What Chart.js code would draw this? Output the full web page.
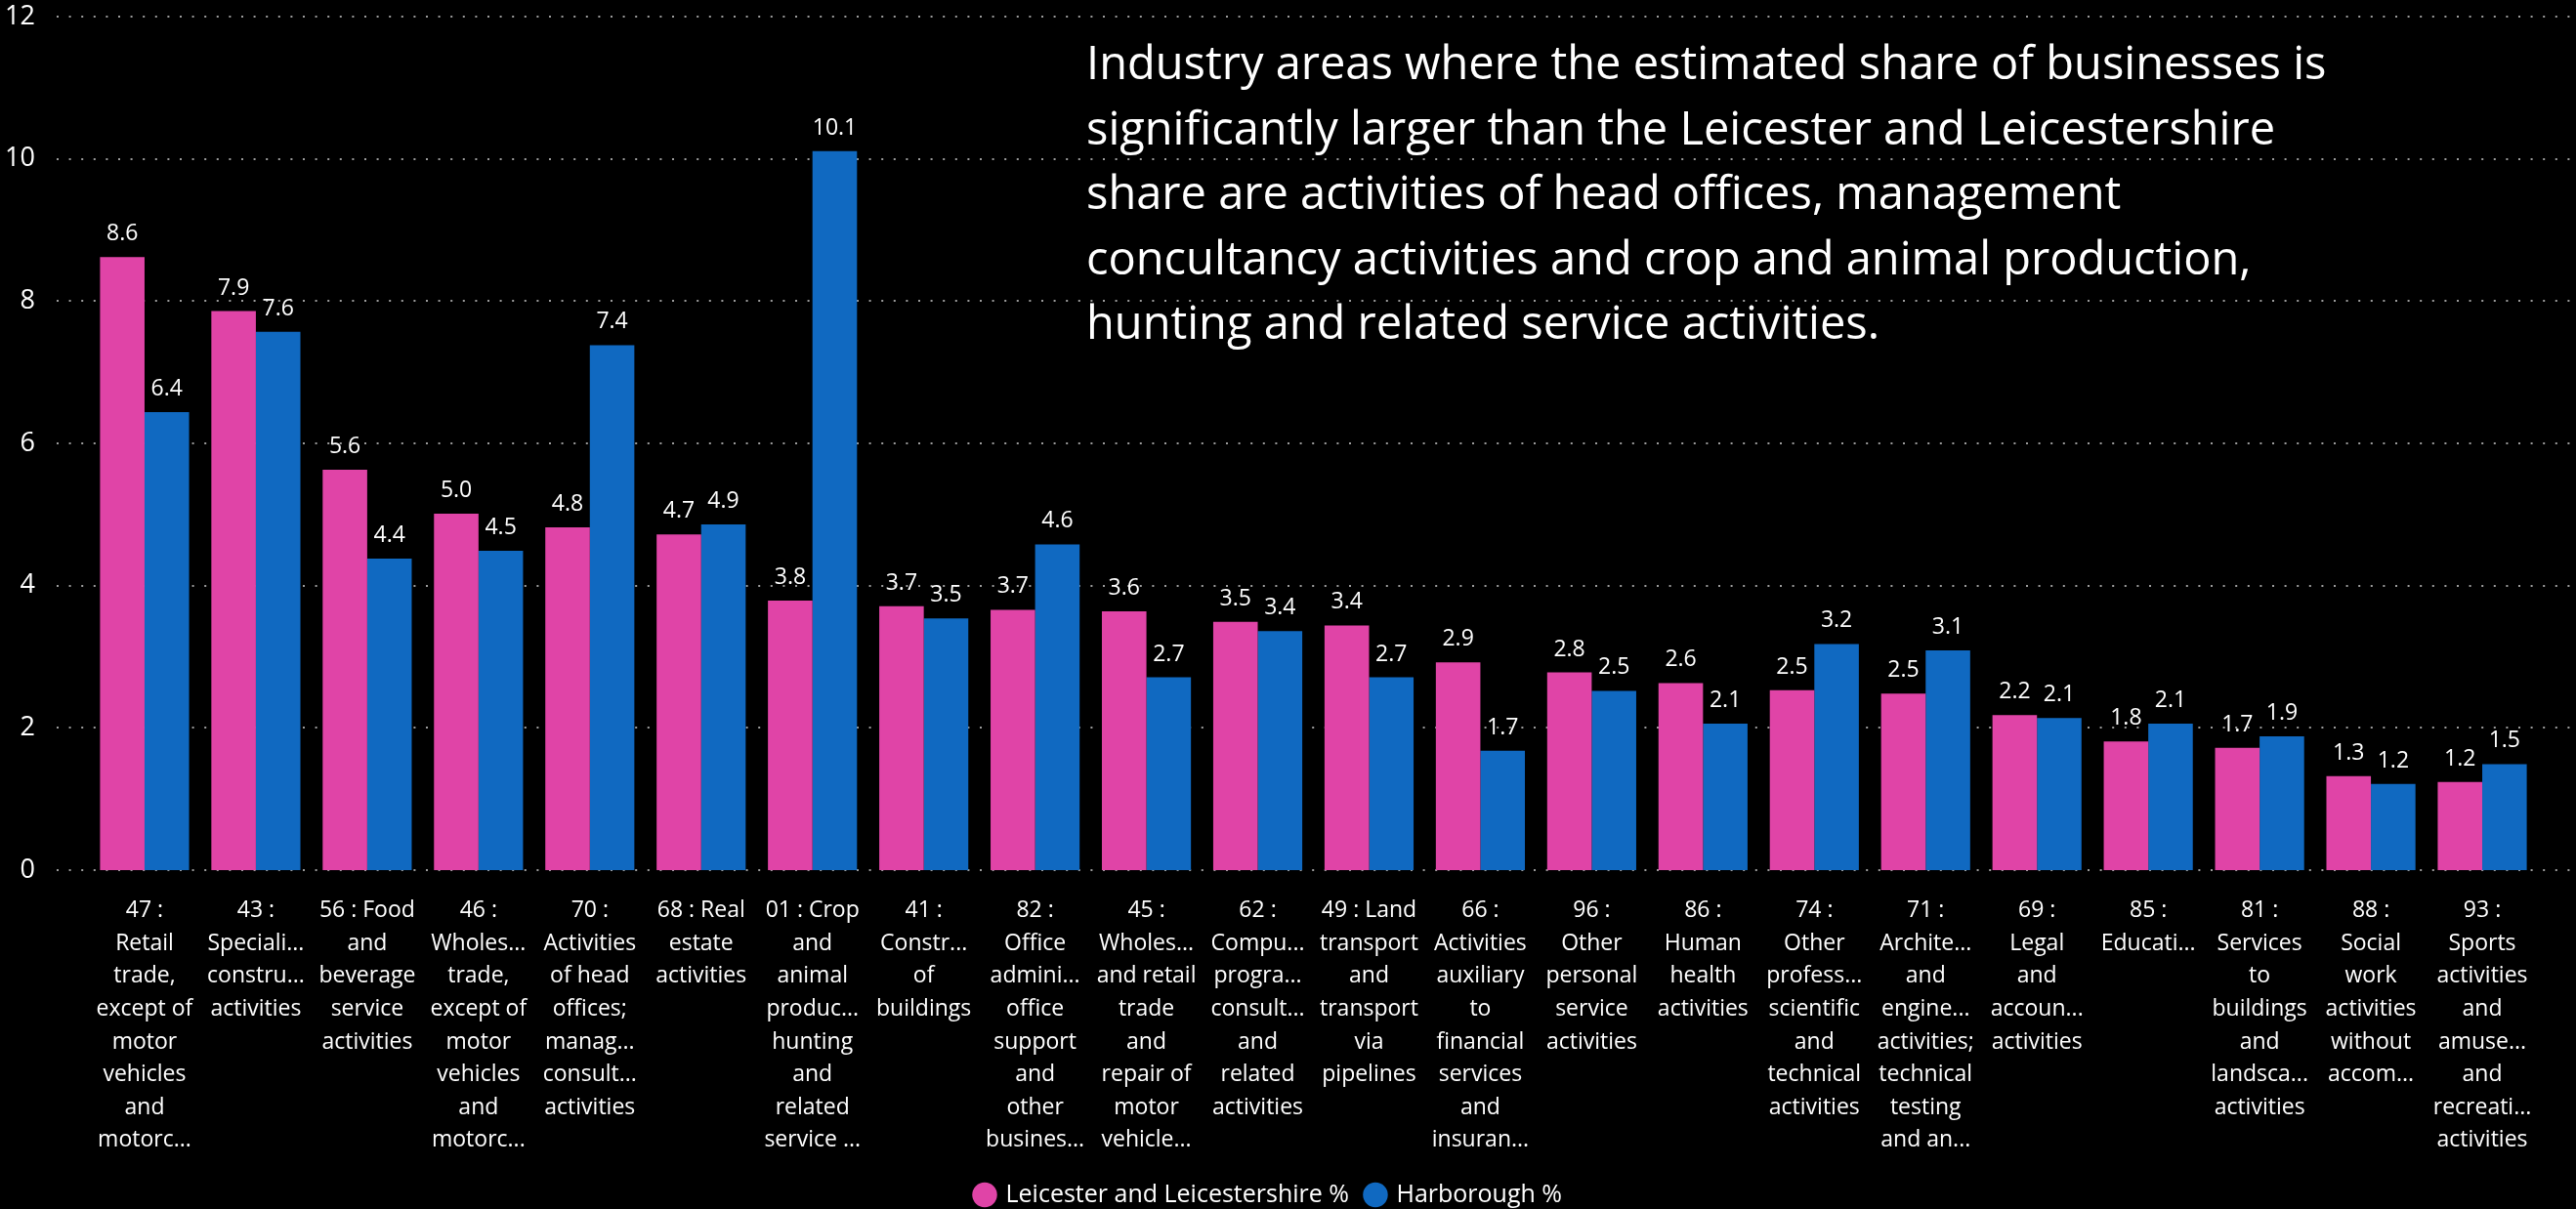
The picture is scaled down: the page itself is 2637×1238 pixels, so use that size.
<!DOCTYPE html>
<html>
<head>
<meta charset="utf-8">
<script src="https://cdn.jsdelivr.net/npm/chart.js@4.4.1/dist/chart.umd.min.js"></script>
<style>
  html, body { margin: 0; padding: 0; background: #000; }
  #wrap { width: 2637px; height: 1238px; }
</style>
</head>
<body>
<div id="wrap"><canvas id="chart" width="2637" height="1238"></canvas></div>
<script>
// category labels, already wrapped/truncated the way the report shows them
const categories = [
  ["47 :", "Retail", "trade,", "except of", "motor", "vehicles", "and", "motorc..."],
  ["43 :", "Speciali...", "constru...", "activities"],
  ["56 : Food", "and", "beverage", "service", "activities"],
  ["46 :", "Wholes...", "trade,", "except of", "motor", "vehicles", "and", "motorc..."],
  ["70 :", "Activities", "of head", "offices;", "manag...", "consult...", "activities"],
  ["68 : Real", "estate", "activities"],
  ["01 : Crop", "and", "animal", "produc...", "hunting", "and", "related", "service ..."],
  ["41 :", "Constr...", "of", "buildings"],
  ["82 :", "Office", "admini...", "office", "support", "and", "other", "busines..."],
  ["45 :", "Wholes...", "and retail", "trade", "and", "repair of", "motor", "vehicle..."],
  ["62 :", "Compu...", "progra...", "consult...", "and", "related", "activities"],
  ["49 : Land", "transport", "and", "transport", "via", "pipelines"],
  ["66 :", "Activities", "auxiliary", "to", "financial", "services", "and", "insuran..."],
  ["96 :", "Other", "personal", "service", "activities"],
  ["86 :", "Human", "health", "activities"],
  ["74 :", "Other", "profess...", "scientific", "and", "technical", "activities"],
  ["71 :", "Archite...", "and", "engine...", "activities;", "technical", "testing", "and an..."],
  ["69 :", "Legal", "and", "accoun...", "activities"],
  ["85 :", "Educati..."],
  ["81 :", "Services", "to", "buildings", "and", "landsca...", "activities"],
  ["88 :", "Social", "work", "activities", "without", "accom..."],
  ["93 :", "Sports", "activities", "and", "amuse...", "and", "recreati...", "activities"]
];

const leicsShare = [8.62, 7.86, 5.63, 5.01, 4.82, 4.72, 3.79, 3.71, 3.66, 3.64, 3.49,
                    3.44, 2.92, 2.78, 2.63, 2.53, 2.48, 2.18, 1.81, 1.72, 1.32, 1.24];
const harboroughShare = [6.44, 7.57, 4.38, 4.49, 7.38, 4.86, 10.11, 3.54, 4.58, 2.71, 3.36,
                         2.71, 1.68, 2.52, 2.06, 3.18, 3.09, 2.14, 2.06, 1.88, 1.21, 1.49];

const yTicks = [0, 2, 4, 6, 8, 10, 12];

const noteLines = [
  "Industry areas where the estimated share of businesses is",
  "significantly larger than the Leicester and Leicestershire",
  "share are activities of head offices, management",
  "concultancy activities and crop and animal production,",
  "hunting and related service activities."
];

const FONT = "'Segoe UI', 'Open Sans', sans-serif";
Chart.defaults.font.family = FONT;

// where the plot should sit on the page
const PLOT_TOP = 17;
const PLOT_BOTTOM = 891;
let xAxisHeight = 303;

// dotted horizontal gridlines across the whole visual, like Power BI
const dottedGrid = {
  id: "dottedGrid",
  beforeDatasetsDraw(chart) {
    const { ctx } = chart;
    const y = chart.scales.y;
    ctx.save();
    ctx.strokeStyle = "#9c9c9c";
    ctx.lineWidth = 2;
    ctx.setLineDash([2, 10.6]);
    yTicks.forEach((v) => {
      const py = Math.round(y.getPixelForValue(v));
      ctx.beginPath();
      ctx.moveTo(58, py);
      ctx.lineTo(chart.width, py);
      ctx.stroke();
    });
    ctx.restore();
  },
};

// value labels above each bar
const barValues = {
  id: "barValues",
  afterDatasetsDraw(chart) {
    const { ctx } = chart;
    ctx.save();
    ctx.font = "23px " + FONT;
    ctx.fillStyle = "#ffffff";
    ctx.textAlign = "center";
    ctx.textBaseline = "alphabetic";
    chart.data.datasets.forEach((ds, i) => {
      chart.getDatasetMeta(i).data.forEach((bar, j) => {
        ctx.fillText(ds.data[j].toFixed(1), bar.x, bar.y - 17);
      });
    });
    ctx.restore();
  },
};

// the text box sitting over the top right of the chart
const noteBox = {
  id: "noteBox",
  afterDraw(chart) {
    const { ctx } = chart;
    ctx.save();
    ctx.font = "47px " + FONT;
    ctx.fillStyle = "#ffffff";
    ctx.textAlign = "left";
    ctx.textBaseline = "alphabetic";
    noteLines.forEach((line, i) => {
      ctx.fillText(line, 1112, 81 + i * 66.5);
    });
    ctx.restore();
  },
};

const ctx = document.getElementById("chart").getContext("2d");
const chart = new Chart(ctx, {
  type: "bar",
  data: {
    labels: categories,
    datasets: [
      {
        label: "Leicester and Leicestershire %",
        data: leicsShare,
        backgroundColor: "#E044A7",
        categoryPercentage: 0.8,
        barPercentage: 1.0,
      },
      {
        label: "Harborough %",
        data: harboroughShare,
        backgroundColor: "#1069C1",
        categoryPercentage: 0.8,
        barPercentage: 1.0,
      },
    ],
  },
  options: {
    responsive: false,
    animation: false,
    layout: { autoPadding: false, padding: { top: PLOT_TOP, right: 39, left: 0, bottom: -8 } },
    plugins: {
      legend: {
        position: "bottom",
        labels: {
          color: "#ffffff",
          font: { size: 25 },
          usePointStyle: true,
          pointStyle: "circle",
          boxWidth: 18,
          boxHeight: 18,
          padding: 18,
        },
      },
      tooltip: { enabled: false },
    },
    scales: {
      x: {
        grid: { display: false, drawTicks: false },
        border: { display: false },
        ticks: {
          color: "#ffffff",
          font: { size: 23, lineHeight: 1.46 },
          autoSkip: false,
          maxRotation: 0,
          minRotation: 0,
          padding: 25,
        },
        afterFit: (s) => { s.height = xAxisHeight; },
      },
      y: {
        min: 0,
        max: 12,
        ticks: { stepSize: 2, color: "#ffffff", font: { size: 27 }, padding: 55 },
        grid: { display: false, drawTicks: false },
        border: { display: false },
        afterFit: (s) => {
          s.width = 91;
          s.paddingTop = 0;
          s.paddingBottom = 0;
        },
      },
    },
  },
  plugins: [dottedGrid, barValues, noteBox],
});

// nudge the layout until the plot area lands where the report has it
for (let k = 0; k < 4; k++) {
  const a = chart.chartArea;
  const dt = a.top - PLOT_TOP;
  const db = a.bottom - PLOT_BOTTOM;
  if (Math.abs(dt) < 0.5 && Math.abs(db) < 0.5) break;
  chart.options.layout.padding.top -= dt;
  xAxisHeight += db;
  chart.update();
}
</script>
</body>
</html>
